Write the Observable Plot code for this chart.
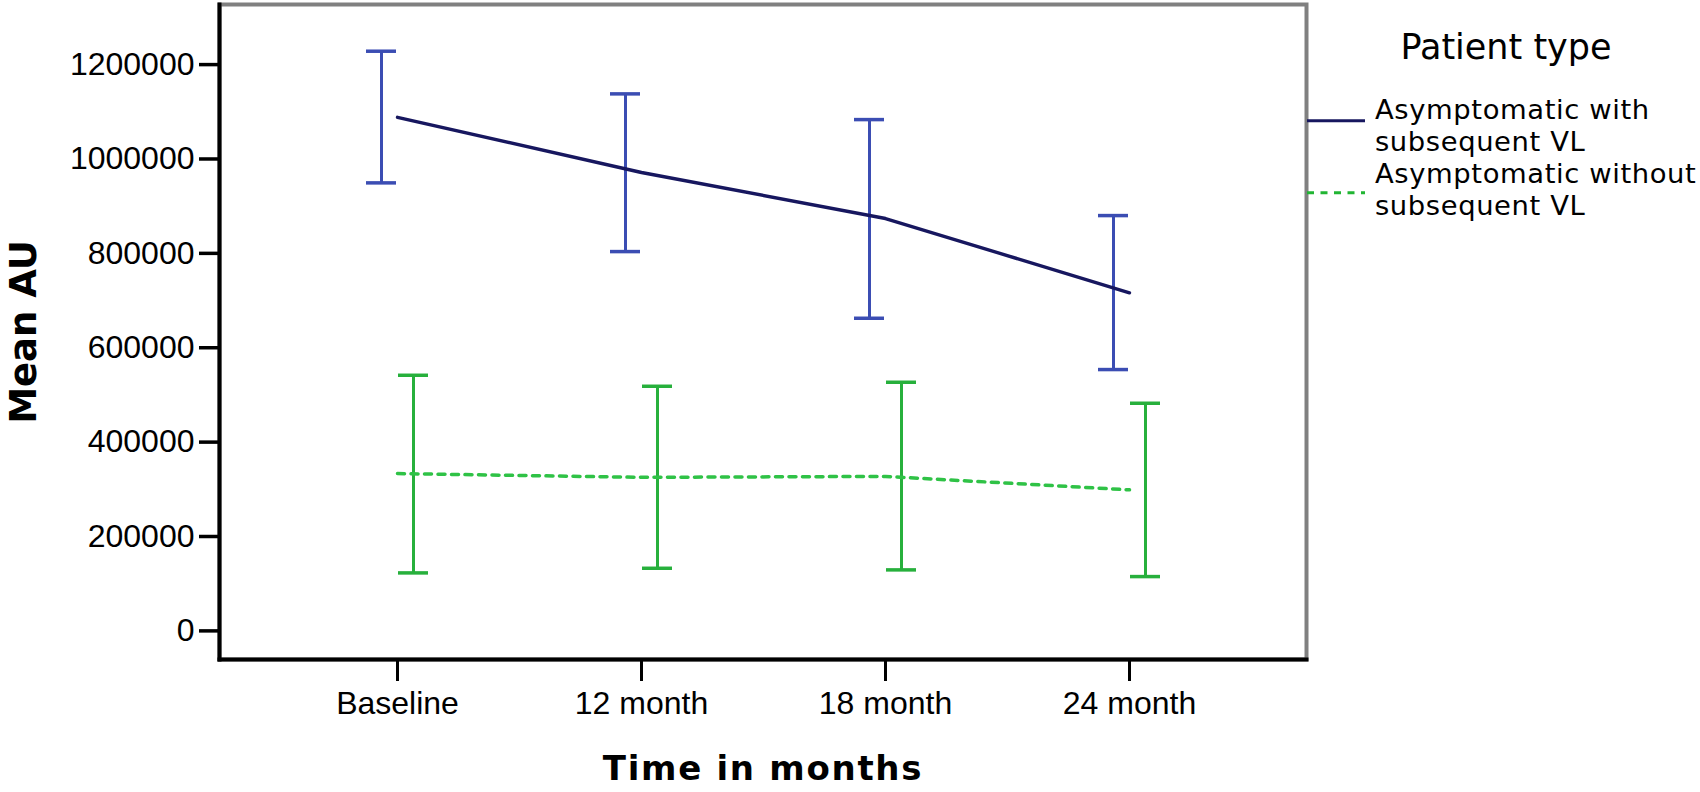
<!DOCTYPE html>
<html>
<head>
<meta charset="utf-8">
<script src="https://cdn.jsdelivr.net/npm/d3@7"></script>
<script src="https://cdn.jsdelivr.net/npm/@observablehq/plot@0.6"></script>
<style>
  html, body { margin: 0; padding: 0; background: #fff; }
  #wrap { position: relative; width: 1700px; height: 792px; overflow: hidden; }
  #wrap > svg.plot { position: absolute; left: 0; top: 0; }
  .lg { position: absolute; font-family: "DejaVu Sans", Verdana, sans-serif; color: #000; white-space: nowrap; }
</style>
</head>
<body>
<div id="wrap"></div>
<script>
// ---- data ----
const timepoints = ["Baseline", "12 month", "18 month", "24 month"];
const withVLMean  = [1082000, 965000, 867500, 710000];
const withVLUpper = [1222000, 1131600, 1077100, 873700];
const withVLLower = [943000, 797400, 656100, 547400];
const withoutVLMean  = [327000, 319000, 321000, 292500];
const withoutVLUpper = [535300, 512000, 520500, 476000];
const withoutVLLower = [116500, 126300, 122900, 108700];
const yTicks = [0, 200000, 400000, 600000, 800000, 1000000, 1200000];
const legendTitle = "Patient type";
const seriesLabels = [["Asymptomatic with", "subsequent VL"], ["Asymptomatic without", "subsequent VL"]];
const xTitle = "Time in months";
const yTitle = "Mean AU";

// ---- styles ----
const navy = "#17175f";
const barBlue = "#3b4db3";
const barGreen = "#27b03c";
const lineGreen = "#2fc246";
const dash = "7,6.5";
const sans = "Liberation Sans, Arial, sans-serif";
const bold = "DejaVu Sans, Verdana, sans-serif";

const withRows = timepoints.map((t, i) => ({time: t, mean: withVLMean[i], lo: withVLLower[i], hi: withVLUpper[i]}));
const withoutRows = timepoints.map((t, i) => ({time: t, mean: withoutVLMean[i], lo: withoutVLLower[i], hi: withoutVLUpper[i]}));

const off = 16, capHalf = 15;

function errorBars(rows, dx, color) {
  return [
    Plot.ruleX(rows, {x: "time", y1: "lo", y2: "hi", dx, stroke: color, strokeWidth: 3}),
    Plot.ruleY(rows, {y: "hi", x1: "time", x2: "time", dx, insetLeft: -capHalf, insetRight: -capHalf, stroke: color, strokeWidth: 3.5}),
    Plot.ruleY(rows, {y: "lo", x1: "time", x2: "time", dx, insetLeft: -capHalf, insetRight: -capHalf, stroke: color, strokeWidth: 3.5})
  ];
}

const chart = Plot.plot({
  width: 1700,
  height: 792,
  marginLeft: 219,
  marginRight: 394,
  marginTop: 4,
  marginBottom: 133,
  style: {background: "#fff", overflow: "visible"},
  x: {type: "point", domain: timepoints, padding: 0.72},
  y: {domain: [-67000, 1321000]},
  marks: [
    ...errorBars(withRows, -off, barBlue),
    ...errorBars(withoutRows, off, barGreen),
    // mean lines
    Plot.line(withRows, {x: "time", y: "mean", stroke: navy, strokeWidth: 3.4}),
    Plot.line(withoutRows, {x: "time", y: "mean", stroke: lineGreen, strokeWidth: 3.5, strokeDasharray: dash}),
    // frame
    Plot.frame({stroke: "#808080", strokeWidth: 4}),
    Plot.frame({anchor: "left", stroke: "#000", strokeWidth: 4}),
    Plot.frame({anchor: "bottom", stroke: "#000", strokeWidth: 4}),
    // axes
    Plot.axisY({ticks: yTicks, tickSize: 20, tickPadding: 5, fontSize: 32, fontFamily: sans, strokeWidth: 3.5, dy: 3, tickFormat: d => String(d), label: null}),
    Plot.axisX({tickSize: 22, tickPadding: 10, fontSize: 32, fontFamily: sans, strokeWidth: 3, label: null}),
    // axis titles
    Plot.text([xTitle], {text: d => d, frameAnchor: "bottom", dy: 110, fontSize: 34, fontWeight: "bold", fontFamily: bold, textAnchor: "middle", lineAnchor: "middle", fill: "#000"}),
    Plot.text([yTitle], {text: d => d, frameAnchor: "left", dx: -195, rotate: -90, fontSize: 37, fontWeight: "bold", fontFamily: bold, textAnchor: "middle", lineAnchor: "middle", fill: "#000"})
  ]
});
chart.classList.add("plot");
// widen the x title a little, like the reference's letter spacing
chart.querySelectorAll("text").forEach(t => {
  if (t.textContent === xTitle) t.setAttribute("letter-spacing", "1.7");
});
const wrap = document.getElementById("wrap");
wrap.appendChild(chart);

// ---- legend ----
function addText(str, css) {
  const d = document.createElement("div");
  d.className = "lg";
  d.style.cssText = css;
  d.textContent = str;
  wrap.appendChild(d);
}
// title: DejaVu 35px, baseline ~59
addText(legendTitle, "left:1306px;top:26.8px;width:400px;text-align:center;font-size:35px;line-height:40.7px;");
// entries: DejaVu 27.4px, baselines 119.3 + 32*k
const lines = seriesLabels.flat();
lines.forEach((s, k) => {
  const baseline = 119.3 + 32 * k;
  addText(s, `left:1375px;top:${baseline - 25.4}px;font-size:27.4px;line-height:31.9px;letter-spacing:0.6px;`);
});

const swatches = [{y: 120.7, stroke: navy, dash: null}, {y: 192.7, stroke: "#21b533", dash: dash}];
const ns = "http://www.w3.org/2000/svg";
const sw = document.createElementNS(ns, "svg");
sw.setAttribute("width", 70); sw.setAttribute("height", 240);
sw.style.cssText = "position:absolute;left:1300px;top:0;";
swatches.forEach(s => {
  const ln = document.createElementNS(ns, "line");
  ln.setAttribute("x1", 7); ln.setAttribute("x2", 65);
  ln.setAttribute("y1", s.y); ln.setAttribute("y2", s.y);
  ln.setAttribute("stroke", s.stroke); ln.setAttribute("stroke-width", 3);
  if (s.dash) ln.setAttribute("stroke-dasharray", s.dash);
  sw.appendChild(ln);
});
wrap.appendChild(sw);
</script>
</body>
</html>
